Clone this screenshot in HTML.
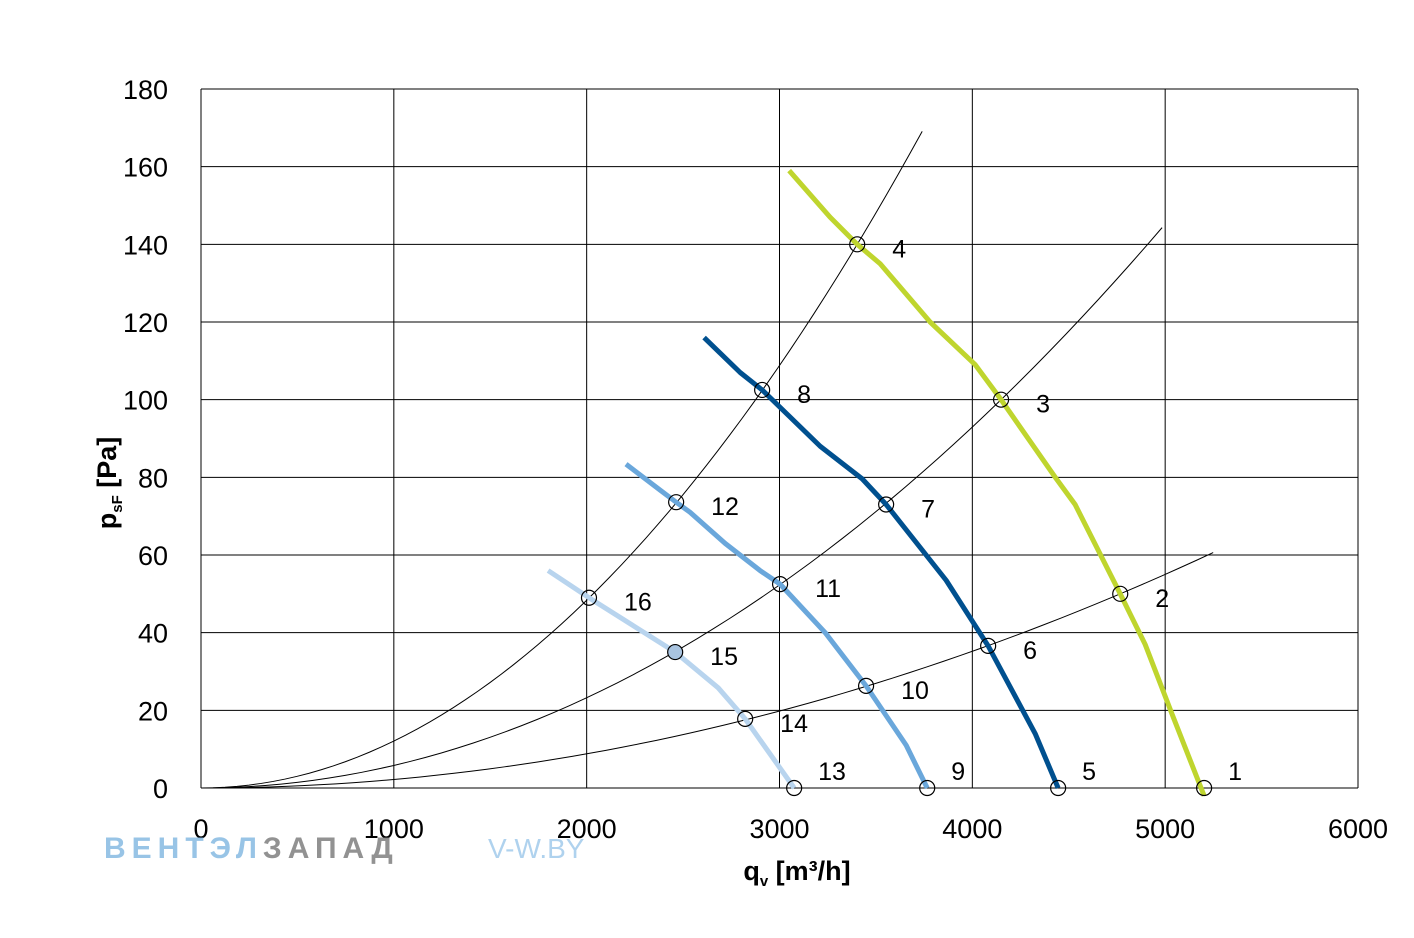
<!DOCTYPE html>
<html><head><meta charset="utf-8"><style>
body{margin:0;background:#fff;}
svg{display:block;font-family:"Liberation Sans",sans-serif;}
</style></head><body>
<svg width="1414" height="938" id="chart">
<g id="grid"></g><g id="curves"></g><g id="marks"></g><g id="labels"></g>
<text x="104" y="858" font-size="30" font-weight="bold" letter-spacing="6" fill="#7fb6e0" opacity="0.8">ВЕНТЭЛ<tspan fill="#777">ЗАПАД</tspan></text>
<text x="488" y="858" font-size="28" fill="#9cc7ea" opacity="0.8">V-W.BY</text>
<text x="797" y="880" font-size="27" font-weight="bold" text-anchor="middle">q<tspan font-size="15" dy="6">v</tspan><tspan dy="-6"> [m³/h]</tspan></text>
<text transform="translate(116,483) rotate(-90)" font-size="27" font-weight="bold" text-anchor="middle">p<tspan font-size="15" dy="6">sF</tspan><tspan dy="-6"> [Pa]</tspan></text>
</svg>
<script>
const xTicks=[0,1000,2000,3000,4000,5000,6000];
const yTicks=[0,20,40,60,80,100,120,140,160,180];
const yellowX=[3050,3262,3403,3522,3781,4015,4149,4430,4533,4767,4896,5036,5202];
const yellowY=[159,147,140,135,120,109,100,80,73,50,37,19,-2];
const darkX=[2609,2796,2910,3211,3429,3553,3864,4082,4326,4445];
const darkY=[116,107,102.5,88,79.6,73,53.5,36.6,14,0];
const midX=[2204,2381,2464,2536,2718,2899,3003,3237,3449,3657,3766];
const midY=[83.4,76.7,73.6,71,63,56,52.5,40,26.3,11,0];
const lightX=[1800,2012,2235,2459,2682,2822,3076];
const lightY=[56,49,42,35,25.8,17.8,0];
const sysRefX=[3403,4149,4767];
const sysRefY=[140,100,50];
const sysEndX=[3740,4984,5249];
const markerX=[5202,4767,4149,3403,4445,4082,3553,2910,3766,3449,3003,2464,3076,2822,2459,2012];
const markerY=[0,50,100,140,0,36.6,73,102.5,0,26.3,52.5,73.6,0,17.8,35,49];
const markerLabels=["1","2","3","4","5","6","7","8","9","10","11","12","13","14","15","16"];
const NS="http://www.w3.org/2000/svg";
const X=v=>201+v/6000*1157, Y=v=>788-v/180*699;
function mk(p,t,a){const e=document.createElementNS(NS,t);for(const k in a)e.setAttribute(k,a[k]);document.getElementById(p).appendChild(e);return e;}
xTicks.forEach(v=>{const l=mk('grid','line',{x1:X(v),x2:X(v),y1:89,y2:788,stroke:'#000','stroke-width':1});


const t=mk('grid','text',{x:X(v),y:838,'font-size':27,'text-anchor':'middle'});t.textContent=v;

});
yTicks.forEach(v=>{const l=mk('grid','line',{x1:201,x2:1358,y1:Y(v),y2:Y(v),stroke:'#000','stroke-width':1});


const t=mk('grid','text',{x:168,y:Y(v)+10,'font-size':27,'text-anchor':'end'});t.textContent=v;

});
sysRefX.forEach((rx,i)=>{const k=sysRefY[i]/(rx*rx);let d='';for(let j=0;j<=60;j++){const x=sysEndX[i]*j/60;d+=(j?'L':'M')+X(x)+','+Y(k*x*x);}
const p=mk('curves','path',{d:d,fill:'none',stroke:'#000','stroke-width':1});

});
[[yellowX,yellowY,'#bfd52e','speed-curve-yellow'],[darkX,darkY,'#00508f','speed-curve-dark-blue'],[midX,midY,'#6aa7db','speed-curve-mid-blue'],[lightX,lightY,'#b8d4ee','speed-curve-light-blue']].forEach(s=>{
const d=s[0].map((x,i)=>(i?'L':'M')+X(x)+','+Y(s[1][i])).join('');
const p=mk('curves','path',{d:d,fill:'none',stroke:s[2],'stroke-width':5,'stroke-linejoin':'round'});

});
markerX.forEach((x,i)=>{const c=mk('marks','circle',{cx:X(x),cy:Y(markerY[i]),r:7.5,fill:i==14?'#a9c4e0':'none',stroke:'#000','stroke-width':1.2});


const z=markerY[i]===0;
const t=mk('labels','text',{x:X(x)+(z?24:35),y:Y(markerY[i])+(z?-8:13),'font-size':25});t.textContent=markerLabels[i];

});
</script>
</body></html>
